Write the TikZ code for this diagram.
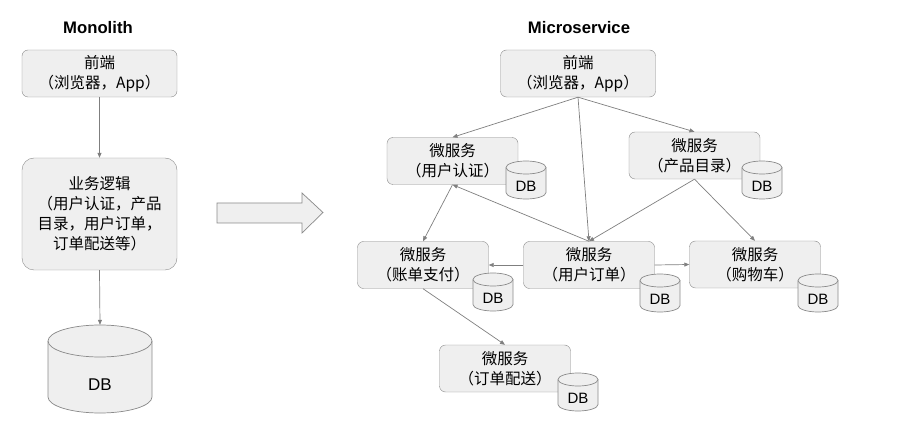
\documentclass[tikz,border=0pt]{standalone}
\usepackage{fontspec}
\setmainfont{Liberation Sans}
\newfontfamily\cjk{Noto Sans CJK SC}
\usetikzlibrary{arrows.meta}

\definecolor{boxgray}{HTML}{EFEFEF}
\definecolor{edgegray}{HTML}{8A8A8A}
\definecolor{linkgray}{HTML}{7F7F7F}

\tikzset{
  svc/.style={draw=edgegray, fill=boxgray, rounded corners=6pt,
    minimum width=131pt, minimum height=47pt, inner sep=0pt,
    align=center, font=\cjk\fontsize{15.5}{20}\selectfont},
  dbline/.style={draw=edgegray, fill=boxgray, line width=0.7pt},
  link/.style={draw=linkgray, line width=0.7pt,
    -{Triangle[length=5pt,width=4pt]}},
  title/.style={font=\bfseries\fontsize{16.7}{19}\selectfont, anchor=base}
}

% name, centre, half width, half height, ellipse radius, font size
\newcommand{\dbstore}[6]{%
  \node[inner sep=0pt, minimum width=2*#3pt, minimum height=2*#4pt] (#1) at #2 {};
  \begin{scope}[shift={(#1.center)}]
    \draw[dbline] (-#3,-#4+#5) -- (-#3,#4-#5)
      arc[start angle=180, end angle=0, x radius=#3, y radius=#5]
      -- (#3,-#4+#5)
      arc[start angle=0, end angle=-180, x radius=#3, y radius=#5] -- cycle;
    \draw[edgegray, line width=0.7pt] (-#3,-#4+#5)
      arc[start angle=180, end angle=0, x radius=#3, y radius=#5];
    \node[font=\fontsize{#6}{#6}\selectfont] at (0,#5) {DB};
  \end{scope}}

\begin{document}
\begin{tikzpicture}[x=1pt,y=-1pt]
  \useasboundingbox (0,0) rectangle (901,435);

  % Monolith
  \node[title] (monotitle) at (98,34) {Monolith};
  \node[svc, minimum width=155pt] (mfront) at (99.5,73.5) {前端\\（浏览器，App）};
  \node[svc, minimum width=155pt, minimum height=112pt, rounded corners=12pt]
    (mlogic) at (99.5,214) {业务逻辑\\（用户认证，产品\\目录，用户订单，\\订单配送等）};
  \dbstore{mdb}{(100,369)}{52}{44}{16}{17}
  \draw[link] (mfront.south) -- (mlogic.north);
  \draw[link] (mlogic.south) -- (mdb.north);

  % big arrow
  \draw[edgegray, fill=boxgray, line width=0.7pt]
    (217,203) -- (302,203) -- (302,193) -- (323,212.5)
    -- (302,233) -- (302,223) -- (217,223) -- cycle;

  % Microservice
  \node[title] (mstitle) at (579,34) {Microservice};
  \node[svc, minimum width=155pt] (sfront) at (578,73.5) {前端\\（浏览器，App）};
  \node[svc] (auth) at (452.5,161) {微服务\\（用户认证）};
  \node[svc] (catalog) at (694.5,155.5) {微服务\\（产品目录）};
  \node[svc] (billing) at (423,265) {微服务\\（账单支付）};
  \node[svc] (order) at (589,265) {微服务\\（用户订单）};
  \node[svc] (cart) at (755,264.5) {微服务\\（购物车）};
  \node[svc] (ship) at (505,368.5) {微服务\\（订单配送）};

  \dbstore{authdb}{(526,180)}{20}{19}{6.5}{15}
  \dbstore{catalogdb}{(762,180)}{20}{19}{6.5}{15}
  \dbstore{billingdb}{(493,292)}{20}{19}{6.5}{15}
  \dbstore{orderdb}{(660,293)}{20}{19}{6.5}{15}
  \dbstore{cartdb}{(818,293)}{20}{19}{6.5}{15}
  \dbstore{shipdb}{(578,392)}{20}{19}{6.5}{15}

  \draw[link] (sfront.south) -- (auth.north);
  \draw[link] (sfront.south) -- (catalog.north);
  \draw[link] (sfront.south) -- (order.north);
  \draw[link] (catalog.south) -- (order.north);
  \draw[link] (catalog.south) -- (cart.north);
  \draw[link] (order.north) -- (auth.south);
  \draw[link] (auth.south) -- (billing.north);
  \draw[link] (order.west) -- (billing.east);
  \draw[link] (order.east) -- (cart.west);
  \draw[link] (billing.south) -- (ship.north);
\end{tikzpicture}
\end{document}
